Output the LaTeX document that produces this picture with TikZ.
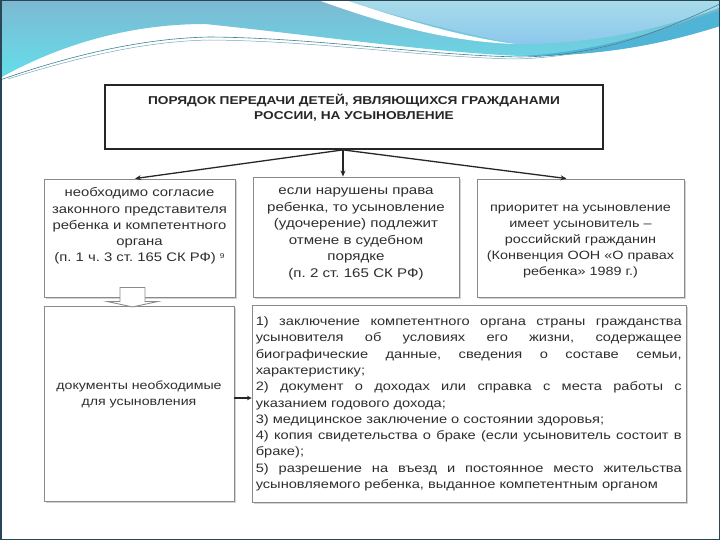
\documentclass[tikz,border=0pt]{standalone}
\usepackage{fontspec}
\setmainfont[FakeStretch=1.2]{Liberation Sans}
\usetikzlibrary{arrows.meta,calc,shadows}
\definecolor{txt}{HTML}{2E2E2E}
\definecolor{boxline}{HTML}{8A8A8A}
\definecolor{frame}{HTML}{2A4656}
\definecolor{bannerA}{RGB}{125,185,210}
\definecolor{bannerB}{RGB}{100,222,234}
\definecolor{bannerC}{RGB}{168,220,234}
\definecolor{bannerD}{RGB}{140,200,236}
\definecolor{bannerE}{RGB}{80,180,215}
\definecolor{wave}{RGB}{60,130,150}
\newlength\lstw
\setlength{\lstw}{426pt}
\newcommand\js{\hspace{0.25em plus 1fill}}
\newcommand\jline[1]{\leavevmode\hbox to \lstw{#1}}
\hbadness=10000
\hfuzz=20pt
\frenchspacing
\begin{document}
\begin{tikzpicture}[x=1pt,y=-1pt,
  box/.style={draw=boxline, line width=0.9pt, fill=white, inner sep=0pt,
    drop shadow={shadow xshift=1.6pt, shadow yshift=-1.6pt, opacity=0.35, fill=gray}},
  titlebox/.style={draw=black!85, line width=1.8pt, fill=white, inner sep=0pt},
  txtc/.style={text=txt, align=center, inner sep=0pt},
  txtl/.style={text=txt, align=left, inner sep=0pt},
  arr/.style={draw=black!85, line width=1.3pt, -{Stealth[length=6pt,width=5pt]}},
  harr/.style={draw=black!85, line width=1.3pt, -{Stealth[length=4.5pt,width=4.5pt]}}
]
\useasboundingbox (0,0) rectangle (720,540);
% banner
\shade[top color=bannerA, bottom color=bannerB]
  (0,0) -- (720,0) -- (720,26) .. controls (660,45) and (600,56) .. (520,56)
  .. controls (430,52) and (320,36) .. (205,24)
  .. controls (120,24) and (50,50) .. (0,78) -- cycle;
\shade[top color=bannerC, bottom color=bannerD]
  (345,0) -- (720,0) -- (720,8) .. controls (650,32) and (590,44) .. (515,44)
  .. controls (450,30) and (400,18) .. (345,0) -- cycle;
\fill[white] (318,0) -- (345,0) .. controls (420,25) and (470,38) .. (515,44)
  .. controls (460,42) and (400,30) .. (318,0) -- cycle;
\fill[bannerE] (520,56) .. controls (600,52) and (660,30) .. (720,10)
  -- (720,26) .. controls (660,45) and (600,56) .. (520,56) -- cycle;
\draw[wave, line width=0.6pt] (0,80) .. controls (80,52) and (150,38) .. (210,37)
  .. controls (320,38) and (420,55) .. (520,57) .. controls (600,56) and (660,32) .. (720,4);
\draw[wave!70, line width=0.5pt] (8,79) .. controls (85,55) and (150,41) .. (210,40)
  .. controls (320,41) and (420,57) .. (515,59) .. controls (600,57) and (665,30) .. (720,8);
% frame
\draw[frame, line width=1.5pt] (0.75,0.75) rectangle (719.25,539.25);

% title
\node[titlebox, minimum width=498pt, minimum height=64pt] (title) at (354,117) {};
\node[txtc, anchor=north, text width=490pt, text=black!85,
  font={\fontsize{11.4}{14.5}\selectfont\bfseries}] (titlet) at ($(title.north)+(0,10)$)
  {ПОРЯДОК ПЕРЕДАЧИ ДЕТЕЙ, ЯВЛЯЮЩИХСЯ ГРАЖДАНАМИ\\РОССИИ, НА УСЫНОВЛЕНИЕ};

% three boxes
\node[box, minimum width=191pt, minimum height=118pt] (lb) at (139.5,238) {};
\node[txtc, anchor=north, text width=187pt, font={\fontsize{12.4}{16.2}\selectfont}] (lbt)
  at ($(lb.north)+(0,9)$)
  {необходимо согласие\\законного представителя\\ребенка и компетентного\\органа\\(п. 1 ч. 3 ст. 165 СК РФ)~\raisebox{3pt}{\fontsize{7}{8}\selectfont 9}};

\node[box, minimum width=206pt, minimum height=120pt] (mb) at (356,237) {};
\node[txtc, anchor=north, text width=202pt, font={\fontsize{12.6}{16.5}\selectfont}] (mbt)
  at ($(mb.north)+(0,11)$)
  {если нарушены права\\ребенка, то усыновление\\(удочерение) подлежит\\отмене в судебном\\порядке\\(п. 2 ст. 165 СК РФ)};

\node[box, minimum width=207pt, minimum height=118pt] (rb) at (580.5,238) {};
\node[txtc, text width=203pt, font={\fontsize{12}{15.8}\selectfont}] (rbt)
  at ($(rb.center)+(0,3.5)$)
  {приоритет на усыновление\\имеет усыновитель –\\российский гражданин\\(Конвенция ООН «О правах\\ребенка» 1989 г.)};

% lower boxes
\node[box, minimum width=190pt, minimum height=195pt] (db) at (139,403.5) {};
\node[txtc, text width=186pt, font={\fontsize{11.8}{16}\selectfont}] (dbt)
  at ($(db.center)+(0,-9.5)$)
  {документы необходимые\\для усыновления};

\node[box, minimum width=434pt, minimum height=197pt] (lst) at (469,403.5) {};
\node[txtl, anchor=north west, text width=428pt, font={\fontsize{12.2}{16.3}\selectfont}] (lstt)
  at ($(lst.north west)+(4,12)$)
  {\jline{1)\js заключение\js компетентного\js органа\js страны\js гражданства}\\
  \jline{усыновителя\js об\js условиях\js его\js жизни,\js содержащее}\\
  \jline{биографические\js данные,\js сведения\js о\js составе\js семьи,}\\
  характеристику;\\
  \jline{2)\js документ\js о\js доходах\js или\js справка\js с\js места\js работы\js с}\\
  указанием годового дохода;\\
  3) медицинское заключение о состоянии здоровья;\\
  \jline{4)\js копия\js свидетельства\js о\js браке\js (если\js усыновитель\js состоит\js в}\\
  браке);\\
  \jline{5)\js разрешение\js на\js въезд\js и\js постоянное\js место\js жительства}\\
  усыновляемого ребенка, выданное компетентным органом};

% arrows
\coordinate (src) at ($(title.south)+(-11,0)$);
\draw[arr] (src) -- ($(lb.north)+(-4.5,0)$);
\draw[arr] (src) -- (src |- mb.north);
\draw[arr] (src) -- ($(rb.north)+(-14,0)$);
\draw[harr] (db.east |- 0,398) -- (lst.west |- 0,398);

% hollow block arrow
\draw[boxline, line width=0.9pt, fill=white]
  ($(lb.south)+(-19.5,-10)$) -- ($(lb.south)+(5.5,-10)$) -- ($(lb.south)+(5.5,4)$)
  -- ($(lb.south)+(18.5,4)$) -- ($(lb.south)+(-7,9.5)$) -- ($(lb.south)+(-32.5,4)$)
  -- ($(lb.south)+(-19.5,4)$) -- cycle;
\end{tikzpicture}
\end{document}
